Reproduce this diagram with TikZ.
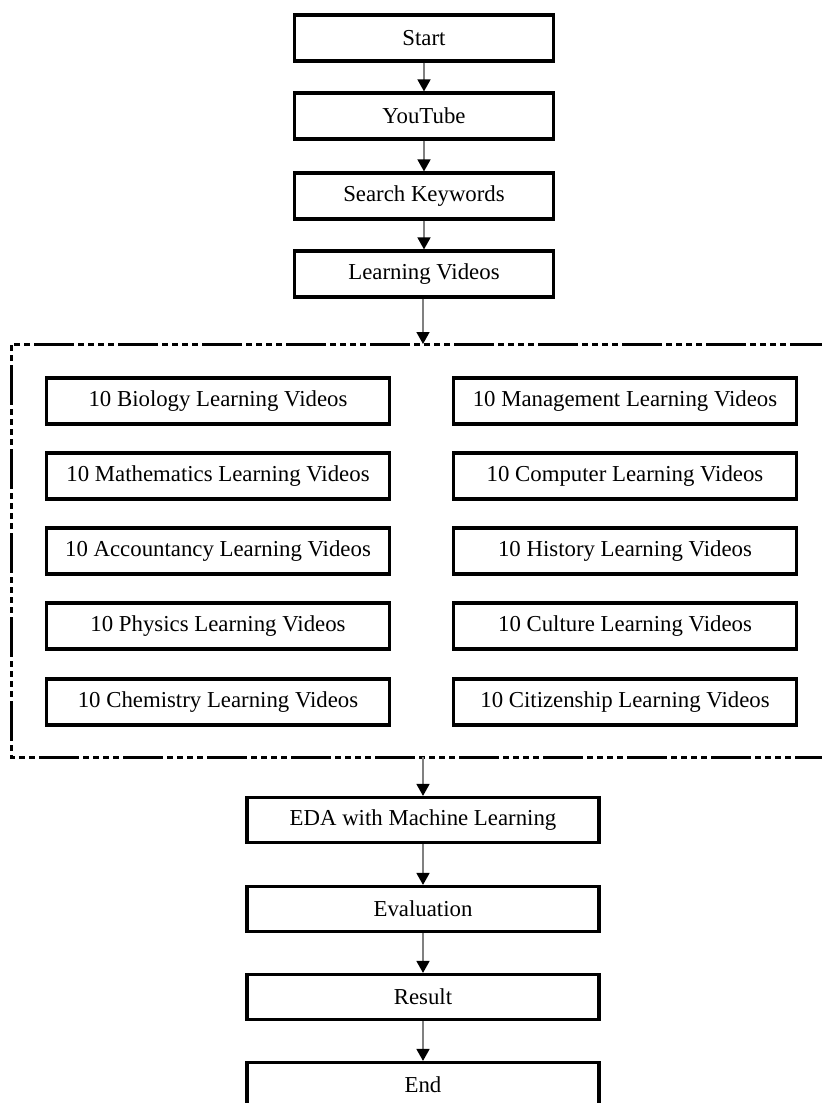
\documentclass[tikz,border=0pt]{standalone}
\usepackage{fontspec}
\setmainfont{Liberation Serif}
\usetikzlibrary{arrows.meta}

\begin{document}
\begin{tikzpicture}[x=0.5pt,y=-0.5pt,
  font=\fontsize{11.4}{13.7}\selectfont,
  stepbox/.style={draw, line width=1.6pt, inner sep=0pt, minimum width=129.5pt, minimum height=23pt},
  topicbox/.style={draw, line width=1.6pt, inner sep=0pt, minimum width=171.5pt, minimum height=23pt},
  lowbox/.style={draw, line width=1.6pt, inner sep=0pt, minimum width=176pt, minimum height=22.5pt},
  link/.style={draw=gray, line width=0.8pt, -{Triangle[color=black,width=6.5pt,length=6pt]}},
  frame/.style={line width=1.5pt, dash pattern=on 20pt off 2pt on 3pt off 2pt on 3pt off 2pt on 3pt off 2pt on 3pt off 2pt}]
\useasboundingbox (0,0) rectangle (822,1103);

\node[stepbox] (start) at (424,38) {Start};
\node[stepbox] (youtube) at (424,116) {YouTube};
\node[stepbox] (keywords) at (424,196) {Search Keywords};
\node[stepbox] (videos) at (424,274) {Learning Videos};

% group of topics
\draw[frame] (830,344) -- (11,344) -- (11,757) -- (830,757);
\coordinate (gtop) at (423,344);
\coordinate (gbot) at (423,757);

\node[topicbox] (bio) at (218,401) {10 Biology Learning Videos};
\node[topicbox] (math) at (218,476) {10 Mathematics Learning Videos};
\node[topicbox] (acc) at (218,551) {10 Accountancy Learning Videos};
\node[topicbox] (phys) at (218,626) {10 Physics Learning Videos};
\node[topicbox] (chem) at (218,702) {10 Chemistry Learning Videos};
\node[topicbox] (mgmt) at (625,401) {10 Management Learning Videos};
\node[topicbox] (comp) at (625,476) {10 Computer Learning Videos};
\node[topicbox] (hist) at (625,551) {10 History Learning Videos};
\node[topicbox] (cult) at (625,626) {10 Culture Learning Videos};
\node[topicbox] (citz) at (625,702) {10 Citizenship Learning Videos};

\node[lowbox] (eda) at (423,820) {EDA with Machine Learning};
\node[lowbox] (eval) at (423,909) {Evaluation};
\node[lowbox] (result) at (423,997) {Result};
\node[lowbox] (finish) at (423,1085) {End};

\draw[link] (start) -- (youtube);
\draw[link] (youtube) -- (keywords);
\draw[link] (keywords) -- (videos);
\draw[link] (videos.south -| gtop) -- (gtop);
\draw[link] (gbot) -- (eda);
\draw[link] (eda) -- (eval);
\draw[link] (eval) -- (result);
\draw[link] (result) -- (finish);
\end{tikzpicture}
\end{document}
